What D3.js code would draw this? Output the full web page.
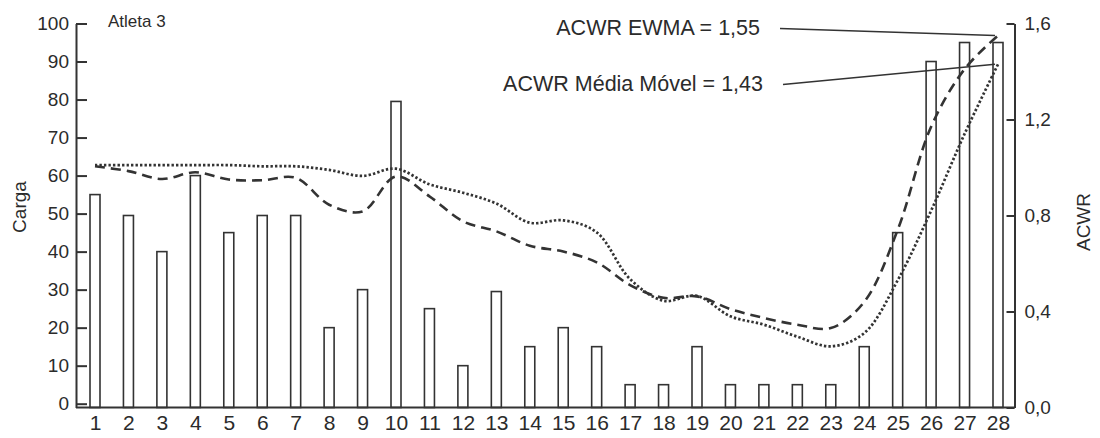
<!DOCTYPE html>
<html>
<head>
<meta charset="utf-8">
<script src="https://cdn.jsdelivr.net/npm/d3@7"></script>
<style>
  html, body { margin: 0; padding: 0; background: #fff; }
  svg text { font-family: "Liberation Sans", Arial, sans-serif; fill: #2b2b2b; }
</style>
</head>
<body>
<svg id="chart" width="1100" height="438"></svg>
<script>
// Daily training load (Carga) and acute:chronic workload ratios for athlete 3
const days = d3.range(1, 29);
const carga = [55, 49.5, 40, 60, 45, 49.5, 49.5, 20, 30, 79.5, 25, 10, 29.5, 15,
               20, 15, 5, 5, 15, 5, 5, 5, 5, 15, 45, 90, 95, 95];
const acwrMediaMovel = [1.01, 1.01, 1.01, 1.01, 1.01, 1.005, 1.005, 0.99, 0.965, 0.995,
                        0.93, 0.895, 0.85, 0.77, 0.78, 0.73, 0.535, 0.445, 0.465, 0.38,
                        0.345, 0.295, 0.255, 0.31, 0.53, 0.82, 1.14, 1.43];
const acwrEwma = [1.005, 0.985, 0.952, 0.98, 0.95, 0.947, 0.957, 0.845, 0.817, 0.963,
                  0.88, 0.776, 0.734, 0.674, 0.65, 0.605, 0.51, 0.457, 0.463, 0.41,
                  0.373, 0.345, 0.331, 0.44, 0.74, 1.17, 1.41, 1.55];
const cargaTicks = d3.range(0, 101, 10);
const acwrTicks = [0, 0.4, 0.8, 1.2, 1.6];
const annotations = [
  { text: "ACWR EWMA = 1,55", value: 1.55, x: 760, y: 35 },
  { text: "ACWR Média Móvel = 1,43", value: 1.43, x: 763, y: 91 }
];

const ink = "#333";
const plotLeft = 76, plotRight = 1014.5, plotTop = 23.5, plotBottom = 407.5;

const svg = d3.select("#chart");

const x = d3.scalePoint().domain(days).range([95, 998]);
const yLoad = d3.scaleLinear().domain([-1, 100]).range([plotBottom, plotTop]);
const yRatio = d3.scaleLinear().domain([0, 1.6]).range([plotBottom, plotTop]);
const fmtComma = v => d3.format(".1f")(v).replace(".", ",");

// bars
svg.append("g")
  .selectAll("rect")
  .data(days)
  .join("rect")
  .attr("x", d => x(d) - 5)
  .attr("width", 10)
  .attr("y", (d, i) => yLoad(carga[i]))
  .attr("height", (d, i) => plotBottom - yLoad(carga[i]))
  .attr("fill", "#fff")
  .attr("stroke", ink)
  .attr("stroke-width", 1.6);

// ACWR curves
const curve = (series) => d3.line()
  .x((d, i) => x(days[i]))
  .y(d => yRatio(d))
  .curve(d3.curveCatmullRom.alpha(0.5))(series);

svg.append("path")
  .attr("d", curve(acwrMediaMovel))
  .attr("fill", "none")
  .attr("stroke", ink)
  .attr("stroke-width", 2.7)
  .attr("stroke-dasharray", "2.4,2.1");

svg.append("path")
  .attr("d", curve(acwrEwma))
  .attr("fill", "none")
  .attr("stroke", ink)
  .attr("stroke-width", 2.6)
  .attr("stroke-dasharray", "10,6");

// axes
const styleAxis = g => {
  g.select(".domain").attr("stroke", ink).attr("stroke-width", 2);
  g.selectAll(".tick line").attr("stroke", ink).attr("stroke-width", 2);
  g.selectAll(".tick text").attr("fill", "#2b2b2b");
};

svg.append("g")
  .attr("transform", `translate(${plotLeft},0)`)
  .call(d3.axisLeft(yLoad).tickValues(cargaTicks).tickSize(-11).tickSizeOuter(0).tickPadding(7))
  .call(styleAxis)
  .call(g => g.selectAll(".tick text").style("font-size", "19px"));

svg.append("g")
  .attr("transform", `translate(${plotRight},0)`)
  .call(d3.axisRight(yRatio).tickValues(acwrTicks).tickFormat(fmtComma)
        .tickSize(-8).tickSizeOuter(0).tickPadding(10))
  .call(styleAxis)
  .call(g => g.selectAll(".tick text").style("font-size", "19px"));

const xAxis = svg.append("g")
  .attr("transform", `translate(0,${plotBottom})`)
  .call(d3.axisBottom(x).tickSize(0).tickPadding(8))
  .call(styleAxis)
  .call(g => g.selectAll(".tick text").style("font-size", "21px"));
xAxis.select(".domain").attr("d", `M${plotLeft},0H${plotRight}`);

// axis titles
svg.append("text")
  .attr("transform", "translate(26,207) rotate(-90)")
  .attr("text-anchor", "middle")
  .style("font-size", "19px")
  .text("Carga");

svg.append("text")
  .attr("transform", "translate(1090,222) rotate(-90)")
  .attr("text-anchor", "middle")
  .style("font-size", "19px")
  .text("ACWR");

svg.append("text")
  .attr("x", 108)
  .attr("y", 27)
  .style("font-size", "17px")
  .text("Atleta 3");

// value call-outs
const ann = svg.append("g");
annotations.forEach(a => {
  ann.append("text")
    .attr("x", a.x)
    .attr("y", a.y)
    .attr("text-anchor", "end")
    .style("font-size", "21.5px")
    .text(a.text);
  ann.append("line")
    .attr("x1", a.x + 20)
    .attr("y1", a.y - 6.5)
    .attr("x2", x(28) - 3)
    .attr("y2", yRatio(a.value))
    .attr("stroke", ink)
    .attr("stroke-width", 1.6);
});
</script>
</body>
</html>
